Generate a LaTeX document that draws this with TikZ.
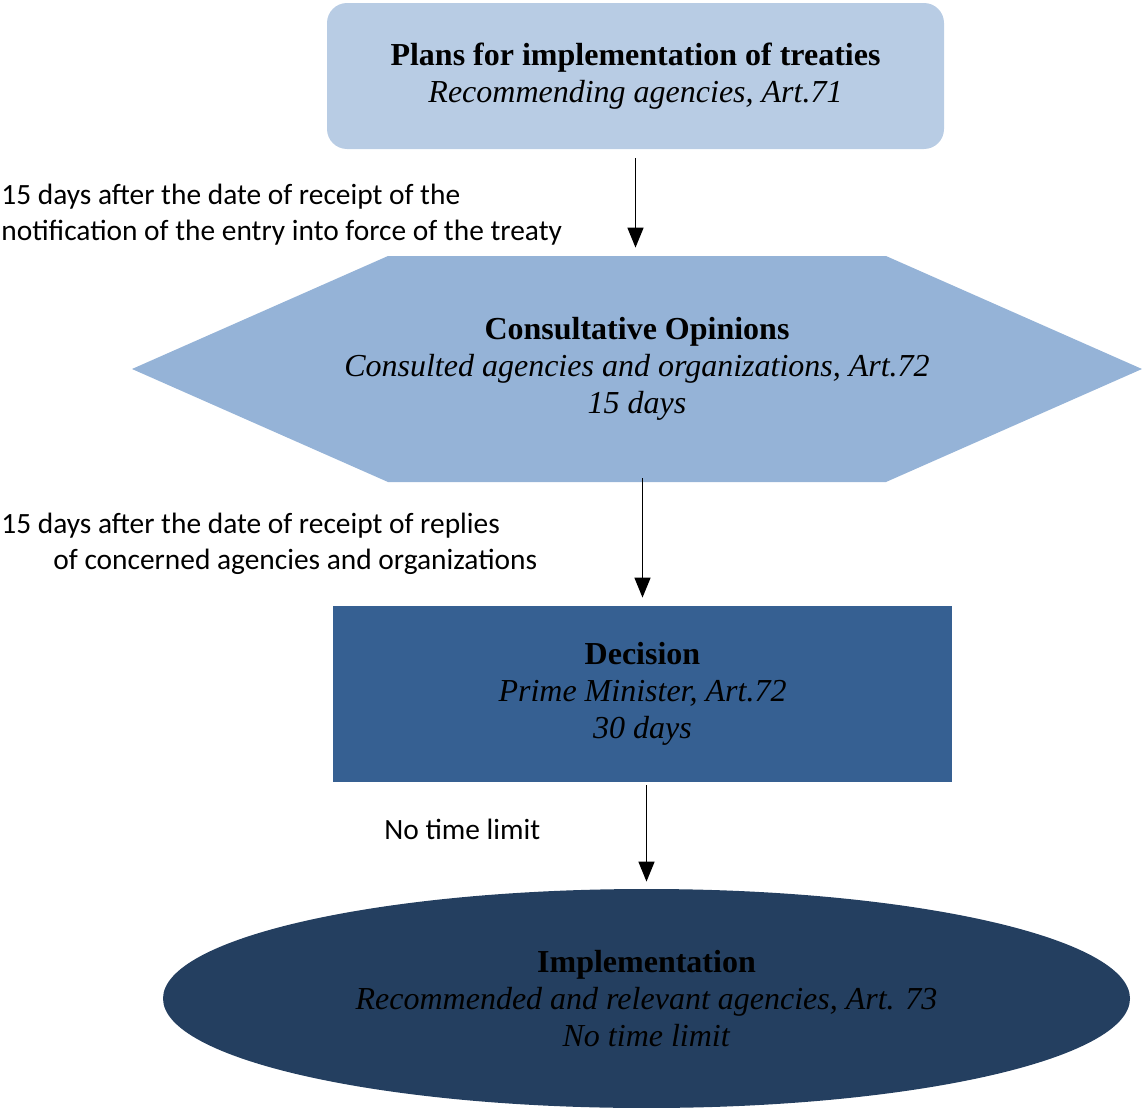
\documentclass[tikz,border=0pt]{standalone}
\usepackage{fontspec}
\setmainfont{Liberation Serif}
\newfontfamily\notefont{Carlito}
\usetikzlibrary{arrows.meta, positioning, shapes.geometric, calc}

\definecolor{planblue}{HTML}{B8CCE4}
\definecolor{opinionblue}{HTML}{95B3D7}
\definecolor{decisionblue}{HTML}{366092}
\definecolor{implblue}{HTML}{243F60}

\begin{document}
\begin{tikzpicture}[
    x=0.5pt,
    y=-0.5pt,
    >={Triangle[length=10pt,width=8pt]},
    stage/.style={
      align=center,
      inner sep=0pt,
      text=black,
      font=\fontsize{16}{18.5}\selectfont
    },
    hexfill/.style={
      path picture={
        \fill[#1] (path picture bounding box.west)
          -- ([xshift=128pt]path picture bounding box.north west)
          -- ([xshift=-128pt]path picture bounding box.north east)
          -- (path picture bounding box.east)
          -- ([xshift=-128pt]path picture bounding box.south east)
          -- ([xshift=128pt]path picture bounding box.south west) -- cycle;
      }
    },
    note/.style={
      anchor=north west,
      align=left,
      inner sep=0pt,
      font=\notefont\fontsize{14.7}{18}\selectfont
    },
    flow/.style={->, line width=0.75pt}
]
\useasboundingbox (0,0) rectangle (1142,1108);

% Stages of the procedure
\node[stage, rectangle, rounded corners=10pt, fill=planblue,
      minimum width=308.5pt, minimum height=73pt] (plans) at (635.5,76)
  {\textbf{Plans for implementation of treaties}\\\textit{Recommending agencies, Art.71}};
\node[stage, rectangle, hexfill=opinionblue,
      minimum width=505pt, minimum height=113pt] (opinions) at (637,369)
  {\textbf{Consultative Opinions}\\\textit{Consulted agencies and organizations, Art.72}\\\textit{15 days}};
\node[stage, rectangle, fill=decisionblue,
      minimum width=309.5pt, minimum height=88pt] (decision) at (642.5,694)
  {\textbf{Decision}\\\textit{Prime Minister, Art.72}\\\textit{30 days}};
\node[stage, ellipse, fill=implblue,
      minimum width=483.5pt, minimum height=109.5pt] (implementation) at (646.5,998.5)
  {\textbf{Implementation}\\\textit{Recommended and relevant agencies, Art. 73}\\\textit{No time limit}};

% Time limits
\node[note] (limit1) at (1,184)
  {15 days after the date of receipt of the\\notification of the entry into force of the treaty};
\node[note] (limit2) at (1,513)
  {15 days after the date of receipt of replies\\\hspace*{26pt}of concerned agencies and organizations};
\node[note] (limit3) at (384,819) {No time limit};

% Arrows
\draw[flow, shorten <=4.5pt, shorten >=4pt] (plans.south) -- (plans.south |- opinions.north);
\draw[flow, shorten <=-2pt, shorten >=4pt] (decision.north |- opinions.south) -- (decision.north);
\draw[flow, shorten <=1.5pt, shorten >=3.5pt] (implementation.north |- decision.south) -- (implementation.north);

\end{tikzpicture}
\end{document}
